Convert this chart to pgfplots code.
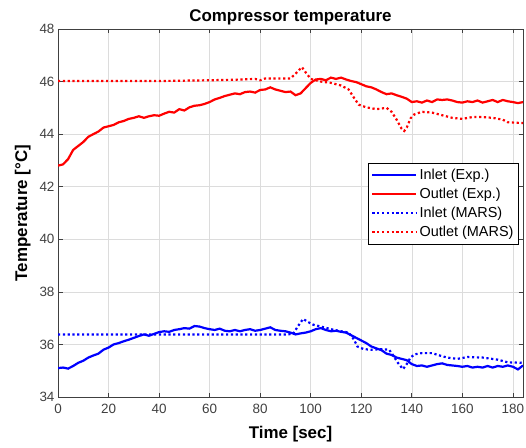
\documentclass[border=0pt]{standalone}
\usepackage{pgfplots}
\pgfplotsset{compat=1.18}
\usepackage{fontspec}
\setmainfont{Liberation Sans}
\definecolor{axgray}{HTML}{404040}
\definecolor{gridgray}{HTML}{DCDCDC}

\begin{document}
\begin{tikzpicture}
\begin{axis}[
    scale only axis,
    width=465bp, height=368bp,
    xmin=0, xmax=184, ymin=34, ymax=48,
    xtick={0,20,...,180}, ytick={34,36,...,48},
    grid=major,
    major grid style={gridgray, line width=0.6bp},
    axis line style={axgray, line width=0.7bp},
    tick style={axgray, line width=0.7bp},
    tick align=inside,
    major tick length=4.5bp,
    tick label style={font=\fontsize{13.5}{15}\selectfont, text=axgray},
    xticklabel style={yshift=-4bp},
    /pgf/number format/assume math mode=true,
    title={\textbf{Compressor temperature}},
    title style={font=\fontsize{17}{19}\selectfont, yshift=-6bp},
    xlabel={\textbf{Time [sec]}},
    ylabel={\textbf{Temperature [°C]}},
    label style={font=\fontsize{17}{19}\selectfont},
    xlabel style={yshift=-5bp},
    ylabel style={yshift=2bp},
    legend style={
        at={(0.991,0.636)}, anchor=north east,
        draw=black, line width=0.7bp,
        font=\fontsize{14.5}{16}\selectfont,
        row sep=3bp, inner xsep=3bp, inner ysep=4bp,
        cells={anchor=west},
    },
    legend image code/.code={
        \draw[#1] (0bp,0bp) -- (44bp,0bp);
    },
]
% Inlet (Exp.)
\addplot[blue, line width=2.2bp] coordinates {
(0,35.10) (2,35.12) (4,35.08) (6,35.18) (8,35.30) (10,35.38) (12,35.50) (14,35.58)
(16,35.65) (18,35.80) (20,35.88) (22,36.00) (24,36.05) (26,36.12) (28,36.18) (30,36.25)
(32,36.32) (34,36.38) (36,36.33) (38,36.40) (40,36.47) (42,36.50) (44,36.48) (46,36.55)
(48,36.58) (50,36.62) (52,36.60) (54,36.70) (56,36.68) (58,36.62) (60,36.58) (62,36.55)
(64,36.60) (66,36.52) (68,36.50) (70,36.55) (72,36.50) (74,36.55) (76,36.58) (78,36.52)
(80,36.55) (82,36.60) (84,36.65) (86,36.55) (88,36.52) (90,36.50) (92,36.45) (94,36.38)
(96,36.42) (98,36.45) (100,36.50) (102,36.58) (104,36.62) (106,36.55) (108,36.50) (110,36.52)
(112,36.48) (114,36.45) (116,36.35) (118,36.25) (120,36.15) (122,36.05) (124,35.92) (126,35.85)
(128,35.78) (130,35.65) (132,35.60) (134,35.50) (136,35.45) (138,35.40) (140,35.25) (142,35.18)
(144,35.20) (146,35.15) (148,35.20) (150,35.25) (152,35.28) (154,35.22) (156,35.20) (158,35.18)
(160,35.15) (162,35.18) (164,35.12) (166,35.15) (168,35.12) (170,35.18) (172,35.12) (174,35.18)
(176,35.15) (178,35.20) (180,35.15) (182,35.05) (184,35.20)
};
% Outlet (Exp.)
\addplot[red, line width=2.2bp] coordinates {
(0,42.80) (2,42.85) (4,43.05) (6,43.40) (8,43.55) (10,43.70) (12,43.90) (14,44.00)
(16,44.10) (18,44.25) (20,44.30) (22,44.35) (24,44.45) (26,44.50) (28,44.58) (30,44.62)
(32,44.68) (34,44.62) (36,44.68) (38,44.72) (40,44.70) (42,44.78) (44,44.85) (46,44.82)
(48,44.95) (50,44.90) (52,45.02) (54,45.08) (56,45.10) (58,45.15) (60,45.22) (62,45.32)
(64,45.38) (66,45.45) (68,45.50) (70,45.55) (72,45.52) (74,45.60) (76,45.62) (78,45.58)
(80,45.68) (82,45.70) (84,45.78) (86,45.70) (88,45.65) (90,45.60) (92,45.62) (94,45.48)
(96,45.55) (98,45.75) (100,45.95) (102,46.08) (104,46.10) (106,46.05) (108,46.15) (110,46.10)
(112,46.15) (114,46.08) (116,46.02) (118,45.98) (120,45.90) (122,45.82) (124,45.78) (126,45.70)
(128,45.60) (130,45.52) (132,45.55) (134,45.48) (136,45.42) (138,45.35) (140,45.22) (142,45.25)
(144,45.20) (146,45.28) (148,45.22) (150,45.32) (152,45.30) (154,45.32) (156,45.28) (158,45.22)
(160,45.20) (162,45.25) (164,45.22) (166,45.28) (168,45.20) (170,45.25) (172,45.30) (174,45.22)
(176,45.30) (178,45.25) (180,45.22) (182,45.18) (184,45.22)
};
% Inlet (MARS)
\addplot[blue, line width=2.2bp, dash pattern=on 2.2bp off 2.6bp] coordinates {
(0,36.38) (90,36.38) (93,36.40) (95,36.70) (97,36.97) (99,36.85) (101,36.75) (104,36.68)
(108,36.58) (112,36.50) (115,36.45) (117,36.20) (118.5,35.92) (121,35.82) (124,35.80) (128,35.82)
(131,35.80) (132.5,35.60) (134.5,35.30) (136.5,35.06) (138,35.25) (139.5,35.50) (141,35.62) (144,35.67)
(148,35.67) (151,35.58) (154,35.50) (158,35.45) (162,35.52) (168,35.50) (174,35.42) (178,35.32)
(184,35.30)
};
% Outlet (MARS)
\addplot[red, line width=2.2bp, dash pattern=on 2.2bp off 2.6bp] coordinates {
(0,46.02) (20,46.02) (40,46.02) (60,46.05) (70,46.07) (78,46.10) (80,46.05) (82,46.12)
(92,46.12) (94,46.30) (96.5,46.55) (98,46.35) (100,46.10) (104,46.00) (108,45.95) (112,45.85)
(115,45.70) (117,45.40) (119,45.12) (122,45.02) (126,44.95) (130,45.00) (132,44.85) (134,44.55)
(136,44.20) (137,44.12) (138,44.25) (139.5,44.60) (141,44.75) (144,44.85) (148,44.82) (152,44.72)
(156,44.62) (160,44.58) (164,44.65) (168,44.65) (172,44.62) (176,44.55) (178,44.45) (184,44.42)
};
\legend{Inlet (Exp.), Outlet (Exp.), Inlet (MARS), Outlet (MARS)}
\end{axis}
\pgfresetboundingbox
\useasboundingbox ([xshift=-58bp, yshift=-51bp]current axis.south west)
    rectangle ([xshift=3bp, yshift=29bp]current axis.north east);
\end{tikzpicture}
\end{document}
